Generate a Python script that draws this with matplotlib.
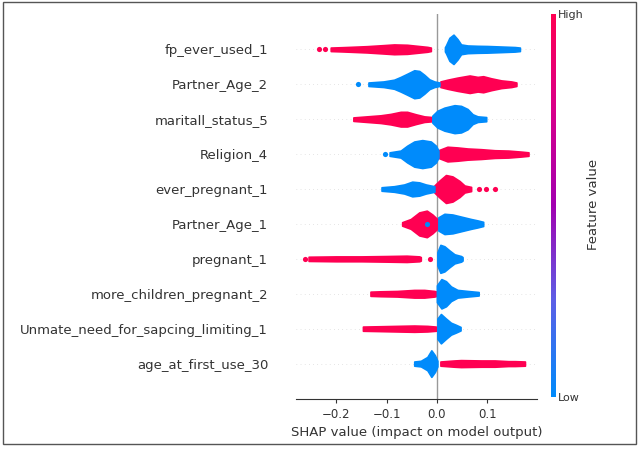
import numpy as np
import matplotlib
matplotlib.use("Agg")
import matplotlib.pyplot as plt
from matplotlib.colors import LinearSegmentedColormap
from matplotlib.cm import ScalarMappable
from matplotlib.patches import Rectangle

# features, top to bottom
features = ["fp_ever_used_1", "Partner_Age_2", "maritall_status_5", "Religion_4",
            "ever_pregnant_1", "Partner_Age_1", "pregnant_1", "more_children_pregnant_2",
            "Unmate_need_for_sapcing_limiting_1", "age_at_first_use_30"]

# swarm outline: shap values and half thickness (row units)
high_x = [
    [-0.211, -0.19, -0.172, -0.139, -0.106, -0.085, -0.059, -0.039, -0.019, -0.012],
    [0.007, 0.021, 0.041, 0.065, 0.081, 0.092, 0.108, 0.128, 0.148, 0.158],
    [-0.166, -0.139, -0.112, -0.092, -0.072, -0.059, -0.042, -0.025, -0.009],
    [0.003, 0.021, 0.041, 0.061, 0.088, 0.115, 0.142, 0.168, 0.182],
    [-0.005, 0.005, 0.018, 0.031, 0.045, 0.055, 0.068],
    [-0.069, -0.052, -0.035, -0.020, -0.009, 0.003],
    [-0.255, -0.2, -0.15, -0.1, -0.06, -0.035, -0.032],
    [-0.132, -0.112, -0.079, -0.045, -0.025, -0.005, 0.0],
    [-0.147, -0.112, -0.079, -0.045, -0.019, -0.002],
    [0.007, 0.035, 0.048, 0.088, 0.115, 0.142, 0.155, 0.175],
]
high_w = [
    [0.05, 0.06, 0.07, 0.09, 0.12, 0.14, 0.13, 0.10, 0.07, 0.05],
    [0.08, 0.13, 0.19, 0.25, 0.21, 0.23, 0.17, 0.11, 0.08, 0.05],
    [0.05, 0.08, 0.11, 0.15, 0.21, 0.21, 0.14, 0.08, 0.06],
    [0.11, 0.21, 0.19, 0.16, 0.14, 0.11, 0.10, 0.07, 0.05],
    [0.10, 0.24, 0.40, 0.36, 0.23, 0.10, 0.06],
    [0.05, 0.14, 0.33, 0.38, 0.27, 0.11],
    [0.06, 0.07, 0.07, 0.08, 0.09, 0.07, 0.05],
    [0.06, 0.07, 0.08, 0.11, 0.11, 0.08, 0.06],
    [0.06, 0.07, 0.08, 0.09, 0.08, 0.06],
    [0.06, 0.09, 0.10, 0.09, 0.09, 0.07, 0.07, 0.06],
]
low_x = [
    [0.016, 0.018, 0.025, 0.033, 0.041, 0.048, 0.061, 0.081, 0.10, 0.128, 0.155, 0.165],
    [-0.136, -0.106, -0.085, -0.072, -0.059, -0.045, -0.035, -0.025, -0.015, -0.005, 0.005],
    [-0.009, 0.001, 0.015, 0.035, 0.048, 0.061, 0.071, 0.081, 0.098],
    [-0.094, -0.072, -0.059, -0.045, -0.029, -0.012, -0.002, 0.003],
    [-0.110, -0.085, -0.065, -0.049, -0.035, -0.022, -0.012, -0.005],
    [0.003, 0.015, 0.031, 0.048, 0.068, 0.081, 0.092],
    [0.001, 0.007, 0.015, 0.025, 0.035, 0.048, 0.051],
    [0.0, 0.009, 0.018, 0.028, 0.041, 0.061, 0.083],
    [0.001, 0.008, 0.018, 0.028, 0.038, 0.047],
    [-0.045, -0.032, -0.019, -0.011, -0.004, 0.001],
]
low_w = [
    [0.06, 0.11, 0.33, 0.42, 0.29, 0.14, 0.11, 0.10, 0.095, 0.08, 0.065, 0.05],
    [0.05, 0.08, 0.13, 0.21, 0.30, 0.40, 0.38, 0.27, 0.14, 0.08, 0.05],
    [0.10, 0.24, 0.33, 0.40, 0.38, 0.29, 0.14, 0.08, 0.06],
    [0.05, 0.10, 0.24, 0.36, 0.40, 0.36, 0.24, 0.10],
    [0.05, 0.08, 0.13, 0.21, 0.19, 0.13, 0.10, 0.08],
    [0.19, 0.29, 0.27, 0.21, 0.14, 0.10, 0.06],
    [0.19, 0.40, 0.36, 0.24, 0.13, 0.08, 0.05],
    [0.24, 0.42, 0.36, 0.21, 0.11, 0.08, 0.05],
    [0.29, 0.42, 0.29, 0.17, 0.11, 0.05],
    [0.06, 0.08, 0.19, 0.38, 0.24, 0.08],
]
# single outlying points
high_dots = [[-0.234, -0.222], [], [], [], [0.083, 0.098, 0.116], [], [-0.263, -0.014], [], [], []]
low_dots = [[], [-0.157], [], [-0.104], [], [-0.019], [], [], [], []]

red = "#ff0052"
blue = "#008bfb"
cmap = LinearSegmentedColormap.from_list(
    "shap", ["#008bfb", "#5c5fe6", "#a200b0", "#d8008a", "#ff0052"])

fig = plt.figure(figsize=(6.4, 4.5), dpi=100)
ax = fig.add_axes([0.4625, 0.1144, 0.3766, 0.8536])

n = len(features)
ax.axvline(0, color="#999999", lw=1, zorder=-1)
for i in range(n):
    y = n - 1 - i
    ax.axhline(y, color="#cccccc", lw=0.5, dashes=(1, 5), zorder=-2)
    for xs, ws, c in [(high_x[i], high_w[i], red), (low_x[i], low_w[i], blue)]:
        xs = np.array(xs)
        ws = np.array(ws)
        ax.fill_between(xs, y - ws, y + ws, color=c, edgecolor=c, lw=1.2,
                        joinstyle="round", capstyle="round")
    if high_dots[i]:
        ax.scatter(high_dots[i], [y] * len(high_dots[i]), s=14, color=red, lw=0)
    if low_dots[i]:
        ax.scatter(low_dots[i], [y] * len(low_dots[i]), s=14, color=blue, lw=0, zorder=3)

ax.set_xlim(-0.28, 0.199)
ax.set_ylim(-1, n)
ax.set_xticks([-0.2, -0.1, 0.0, 0.1])
ax.set_yticks(range(n))
ax.set_yticklabels(features[::-1], fontsize=9.5, color="#333333")
ax.tick_params("y", length=0, pad=20)
ax.tick_params("x", labelsize=8.5, labelcolor="#333333", color="#333333", length=3)
ax.set_xlabel("SHAP value (impact on model output)", fontsize=9.5, color="#333333")
for s in ["left", "right", "top"]:
    ax.spines[s].set_visible(False)
ax.spines["bottom"].set_color("#333333")

# colour bar
cax = fig.add_axes([0.861, 0.118, 0.007, 0.851])
sm = ScalarMappable(cmap=cmap)
sm.set_array([0, 1])
cb = fig.colorbar(sm, cax=cax, ticks=[0, 1])
cb.set_ticklabels(["Low", "High"])
cb.ax.tick_params(labelsize=8, length=0, pad=2, labelcolor="#333333")
cb.outline.set_visible(False)
fig.text(0.927, 0.545, "Feature value", rotation=90, fontsize=9.5, color="#333333",
         ha="center", va="center")

# outer frame
fig.patches.append(Rectangle((0.0047, 0.0133), 0.989, 0.982, transform=fig.transFigure,
                             fill=False, edgecolor="#555555", lw=1))

fig.savefig("out.png", dpi=100)
